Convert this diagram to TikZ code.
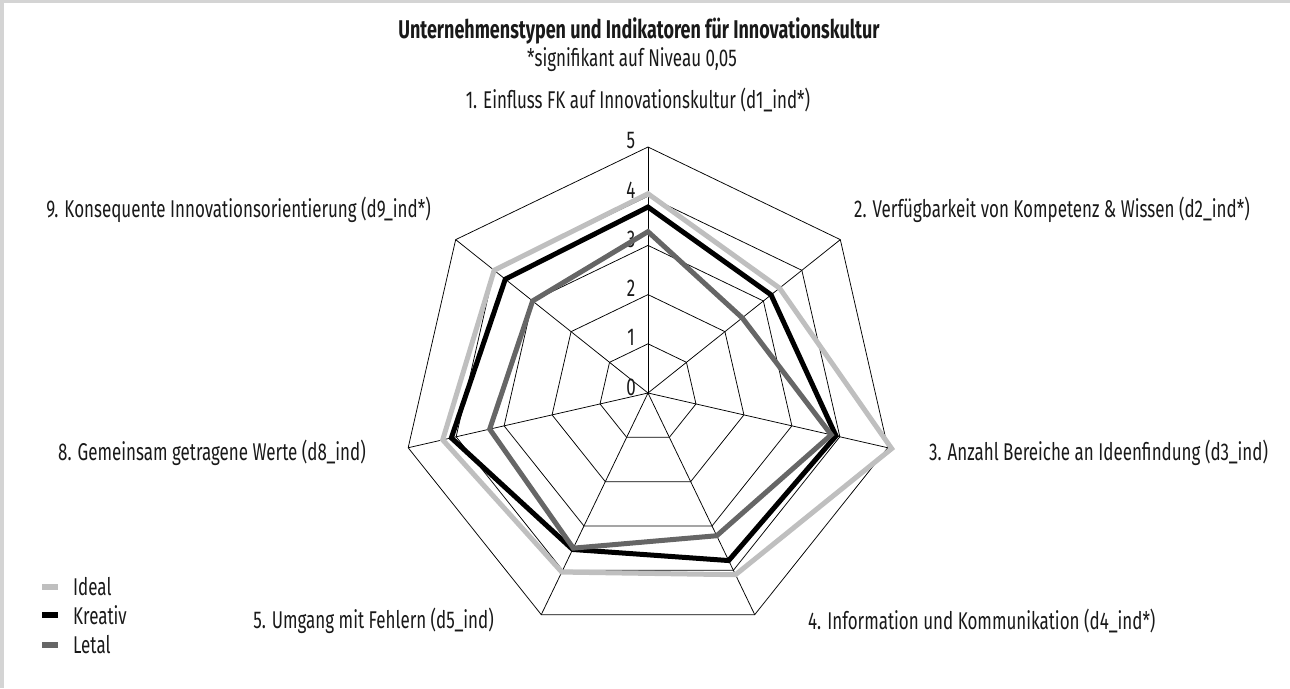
\documentclass[tikz,border=0pt]{standalone}
\usepackage{fontspec}
\setmainfont[FakeStretch=0.7]{Fira Sans}
\usetikzlibrary{calc}
\def\u{0.984}
\def\radarline[#1](#2,#3,#4,#5,#6,#7,#8){\draw[#1] (90:{#2*\u}) -- ({90-360/7}:{#3*\u}) -- ({90-2*360/7}:{#4*\u}) -- ({90-3*360/7}:{#5*\u}) -- ({90-4*360/7}:{#6*\u}) -- ({90-5*360/7}:{#7*\u}) -- ({90-6*360/7}:{#8*\u}) -- cycle;}

\begin{document}
\begin{tikzpicture}[font=\fontsize{13.8}{16}\selectfont, text=black!90]
			%%%%% START %%%%%
			
			\useasboundingbox (-12.96, -5.9) rectangle (12.84, 7.86);
			\fill[color=black!17] (-12.96, 7.8) rectangle (12.84, 7.86);
			\fill[color=black!17] (-12.96, -5.9) rectangle (-12.88, 7.86);
			
			\node[font=\fontsize{14.6}{17}\selectfont\bfseries] (title) at (-0.18, 7.25) {Unternehmenstypen und Indikatoren für Innovationskultur};
			\node (subtitle) at (-0.32, 6.66) {*signifikant auf Niveau 0,05};
			
			% web
			\foreach \r in {1,...,5}
				\draw[line width=0.15mm] (90:{\r*\u}) \foreach \k in {1,...,6} { -- ({90-\k*360/7}:{\r*\u}) } -- cycle;
			\foreach \k in {0,...,6}
				\draw[line width=0.15mm] (0, 0) -- ({90-\k*360/7}:{5*\u});
			\foreach \r in {0,...,5}
				\node (tick\r) at (-0.34, {\r*\u+0.12}) {\r};
			
			% series
			\radarline[line width=1mm, color=black!25](4.05,3.42,5.08,4.1,4.04,4.28,4.0)
			\radarline[line width=1mm, color=black](3.78,3.2,3.92,3.78,3.53,4.1,3.71)
			\radarline[line width=1mm, color=black!60](3.28,2.45,3.82,3.22,3.5,3.3,3.0)
			
			% axis labels
			\node (lab1) at (-0.2, 5.86) {1. Einfluss FK auf Innovationskultur (d1\_ind*)};
			\node[anchor=west] (lab2) at (4.0, 3.66) {2. Verfügbarkeit von Kompetenz \& Wissen (d2\_ind*)};
			\node[anchor=west] (lab3) at (5.5, -1.2) {3. Anzahl Bereiche an Ideenfindung (d3\_ind)};
			\node[anchor=west] (lab4) at (3.08, -4.56) {4. Information und Kommunikation (d4\_ind*)};
			\node[anchor=east] (lab5) at (-2.96, -4.56) {5. Umgang mit Fehlern (d5\_ind)};
			\node[anchor=east] (lab8) at (-5.52, -1.2) {8. Gemeinsam getragene Werte (d8\_ind)};
			\node[anchor=east] (lab9) at (-4.22, 3.66) {9. Konsequente Innovationsorientierung (d9\_ind*)};
			
			% legend
			\fill[color=black!25] (-12.12, -3.94) rectangle (-11.8, -3.82);
			\node[anchor=west] (legideal) at (-11.62, -3.88) {Ideal};
			\fill[color=black] (-12.12, -4.5) rectangle (-11.8, -4.38);
			\node[anchor=west] (legkreativ) at (-11.62, -4.44) {Kreativ};
			\fill[color=black!60] (-12.12, -5.1) rectangle (-11.8, -4.98);
			\node[anchor=west] (legletal) at (-11.62, -5.04) {Letal};
			
			%%%%% END %%%%%
		\end{tikzpicture}
\end{document}
